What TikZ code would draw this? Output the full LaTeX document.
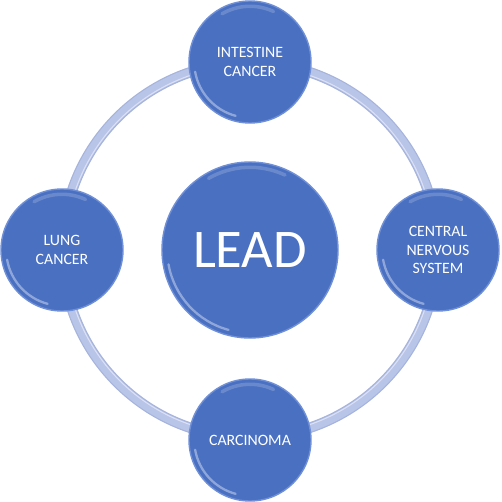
\documentclass[tikz,border=0pt]{standalone}
\usepackage{fontspec}
\setmainfont{Carlito}
\usepackage{xcolor}
\definecolor{ldblue}{HTML}{4A70C2}
\definecolor{ldrim}{HTML}{6F8FD6}
\definecolor{ldring}{HTML}{B8C4E8}
\definecolor{ldringedge}{HTML}{A6B4DC}
\usetikzlibrary{calc,backgrounds}
\tikzset{
  ldgloss/.style ={path picture={
      \draw[white, opacity=0.38, line width=1.3pt, line cap=round]
        let \p1=(path picture bounding box.center), \p2=(path picture bounding box.east),
            \n1={\x2-\x1-3pt} in
        ($(\p1)+(190:\n1)$) arc[start angle=190, end angle=255, radius=\n1];
      \draw[white, opacity=0.18, line width=2pt, line cap=round]
        let \p1=(path picture bounding box.center), \p2=(path picture bounding box.east),
            \n1={\x2-\x1-3pt} in
        ($(\p1)+(65:\n1)$) arc[start angle=65, end angle=120, radius=\n1];}},
  ldball/.style  ={circle, fill=ldblue, draw=ldrim, line width=0.8pt, ldgloss,
                   minimum size=2.44cm, inner sep=0pt, align=center, text=white,
                   font=\fontsize{9}{10.4}\selectfont},
  ldhub/.style   ={ldball, minimum size=3.52cm, font=\fontsize{31}{36}\selectfont},
  ldringline/.style={draw=ldringedge, line width=6pt},
  ldringglow/.style={draw=ldring, line width=4.6pt},
}
\begin{document}
\begin{tikzpicture}
  \useasboundingbox (-5.0,-5.04) rectangle (5.04,5.0);
  \node[ldhub]  (lead)  at (0,0)     {LEAD};
  \node[ldball] (intes) at (0,3.76)  {INTESTINE\\CANCER};
  \node[ldball] (cns)   at (3.76,0)  {CENTRAL\\NERVOUS\\SYSTEM};
  \node[ldball] (carc)  at (0,-3.8)  {CARCINOMA};
  \node[ldball] (lung)  at (-3.76,0) {LUNG\\CANCER};
  \begin{scope}[on background layer]
    \draw[ldringline] (lead.center) circle[radius=3.75cm];
    \draw[ldringglow] (lead.center) circle[radius=3.75cm];
    \draw[white, opacity=0.5, line width=0.6pt] (lead.center) circle[radius=3.69cm];
  \end{scope}
\end{tikzpicture}
\end{document}
